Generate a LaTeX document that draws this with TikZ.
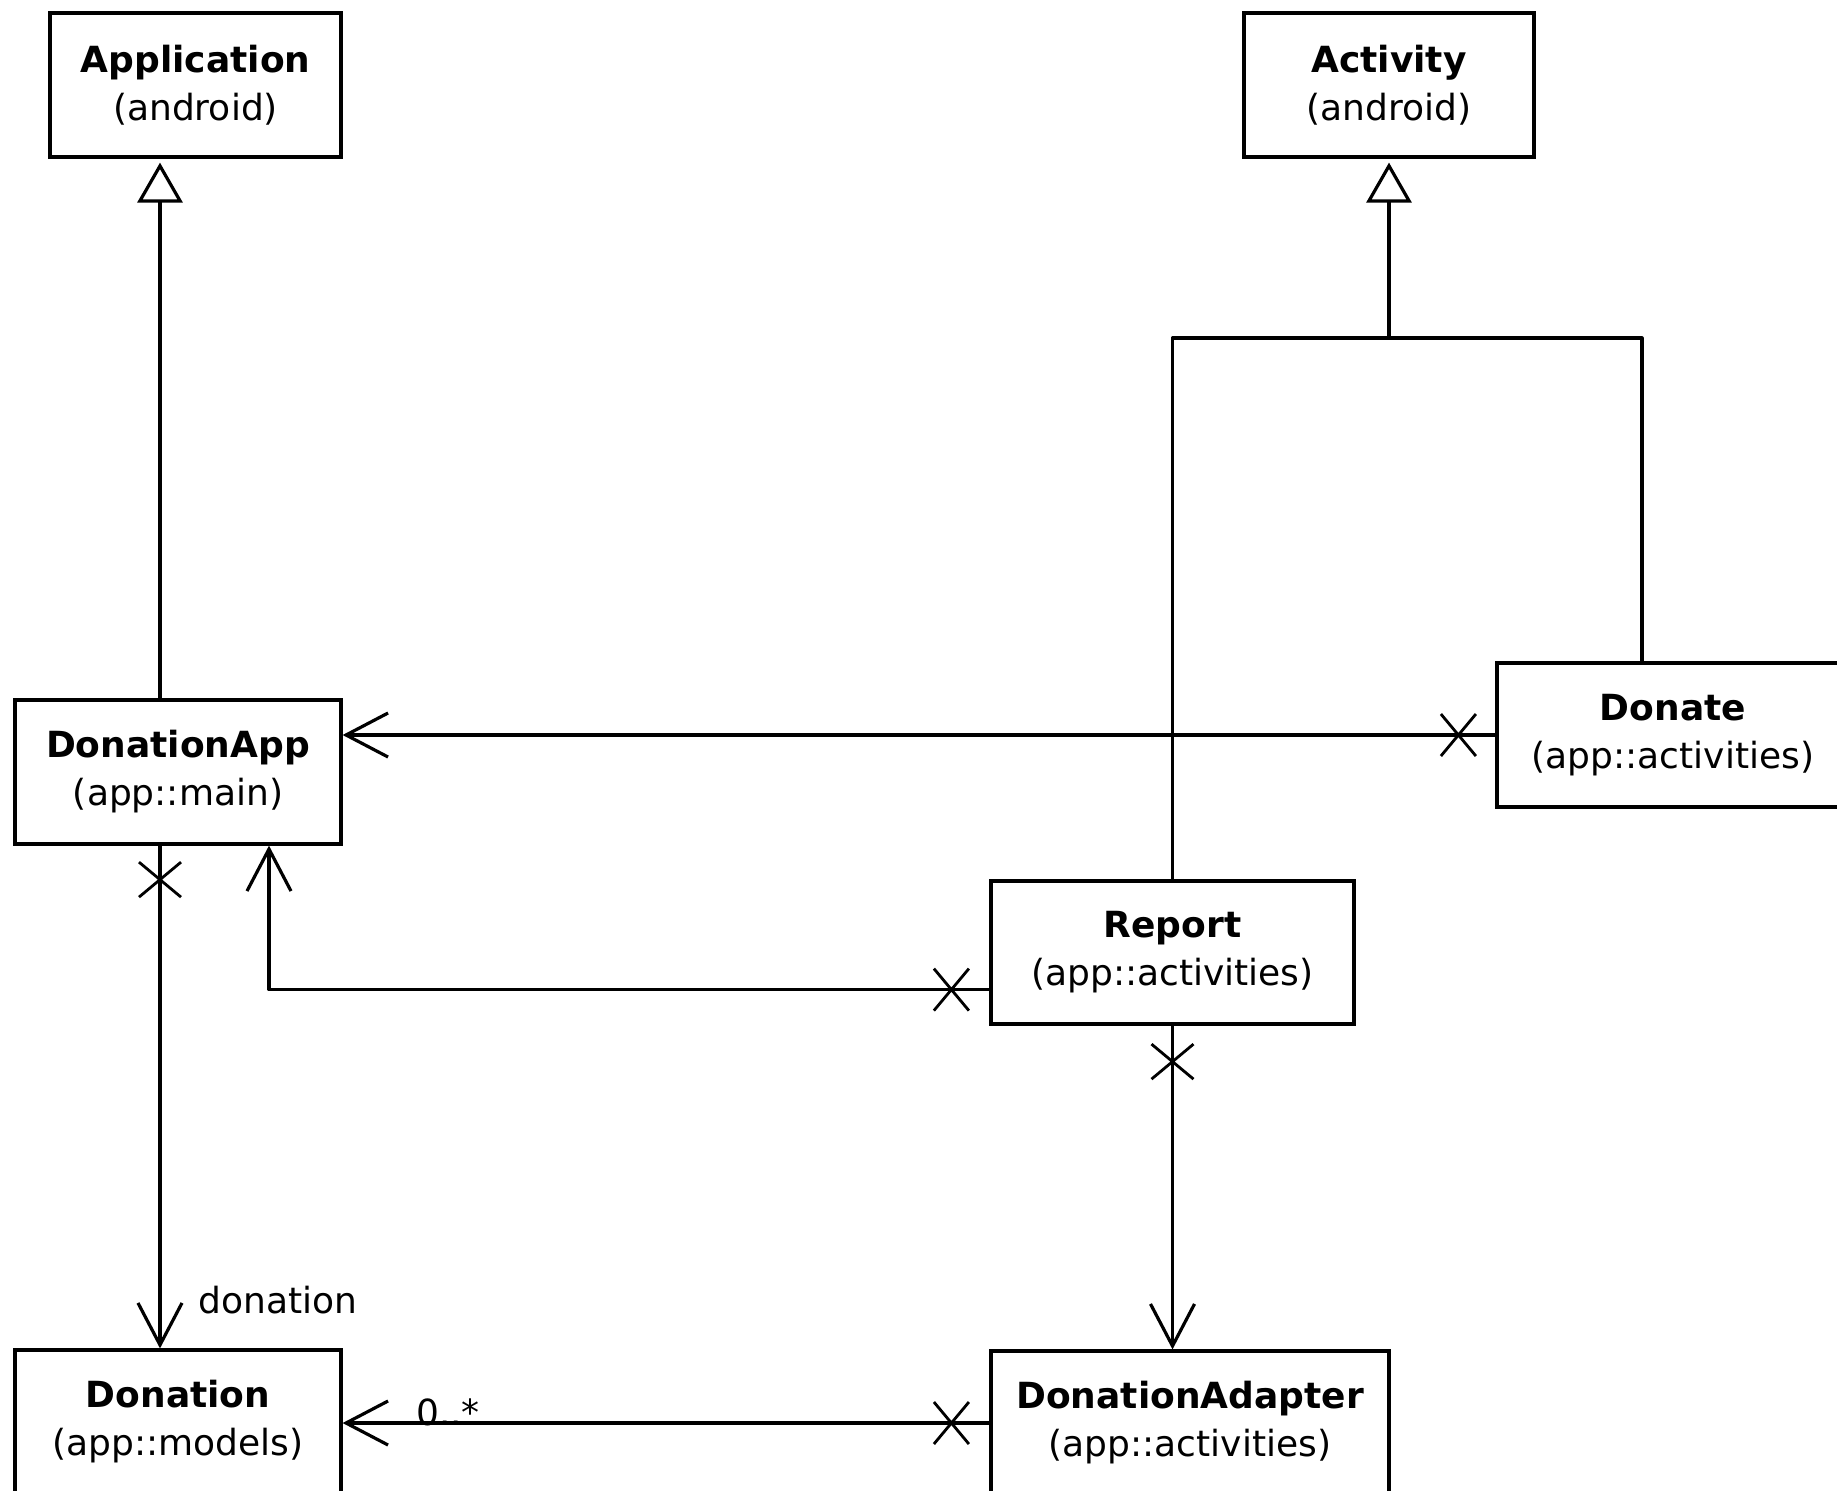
\documentclass[tikz,border=0pt]{standalone}
\usepackage{fontspec}
\setmainfont{DejaVu Sans}
\usetikzlibrary{arrows.meta,calc}
\tikzset{
  cls/.style={draw=black, fill=white, line width=1.6pt, align=center,
    font=\fontsize{18}{24}\selectfont, minimum height=72pt, inner sep=0pt},
  conn/.style={line width=1.6pt, line join=round},
  gen/.style={conn, -{Triangle[open, fill=white, length=20pt, width=22.5pt]}, shorten >=2pt},
  assoc/.style={conn, -{Straight Barb[length=21pt, width=22pt]}},
  lbl/.style={font=\fontsize{18}{22}\selectfont, inner sep=0pt},
  xh/.pic={\draw[line width=1.4pt] (-17.5,-21) -- (17.5,21) (-17.5,21) -- (17.5,-21);},
  xv/.pic={\draw[line width=1.4pt] (-21,-17.5) -- (21,17.5) (-21,17.5) -- (21,-17.5);}
}
\begin{document}
\begin{tikzpicture}[x=0.5pt,y=-0.5pt]
\useasboundingbox (0,0) rectangle (1837,1490);
\fill[white] (0,0) rectangle (1837,1490);
\clip (0,0) rectangle (1837,1490);

% classes
\node[cls, minimum width=145.5pt] (Application) at (195.5,85) {\textbf{Application}\\(android)};
\node[cls, minimum width=145pt] (Activity) at (1389,85) {\textbf{Activity}\\(android)};
\node[cls, minimum width=163pt] (DonationApp) at (178,772) {\textbf{DonationApp}\\(app::main)};
\node[cls, minimum width=176pt] (Donate) at (1673,735) {\textbf{Donate}\\(app::activities)};
\node[cls, minimum width=181.5pt, minimum height=71.5pt] (Report) at (1172.5,952.5) {\textbf{Report}\\(app::activities)};
\node[cls, minimum width=163pt] (Donation) at (178,1422) {\textbf{Donation}\\(app::models)};
\node[cls, minimum width=199pt] (DonationAdapter) at (1190,1423) {\textbf{DonationAdapter}\\(app::activities)};

% helper coordinates
\coordinate (xA) at (160,0);
\coordinate (xB) at (269,0);
\coordinate (xD) at (1642,0);
\coordinate (bar) at (1389,338);
\coordinate (rl) at ($(Report.south west)+(0,-36)$);

% generalizations
\draw[gen] (DonationApp.north -| xA) -- (Application.south -| xA);
\draw[conn] (Report.north) -- (Report.north |- bar) -- (bar -| xD) -- (xD |- Donate.north);
\draw[gen] (bar) -- (Activity.south);

% associations
\draw[assoc] (Donate.west) -- (Donate.west -| DonationApp.east);
\pic at ($(Donate.west)+(-37,0)$) {xh};

\draw[assoc] (rl) -- (rl -| xB) -- (xB |- DonationApp.south);
\pic at ($(rl)+(-38,0)$) {xh};

\draw[assoc] (DonationApp.south -| xA) -- (Donation.north -| xA)
  node[at end, lbl, anchor=base west, xshift=18.5pt, yshift=17.5pt] {donation};
\pic at ($(DonationApp.south -| xA)+(0,34)$) {xv};

\draw[assoc] (Report.south) -- (Report.south |- DonationAdapter.north);
\pic at ($(Report.south)+(0,36)$) {xv};

\draw[assoc] (DonationAdapter.west) -- (DonationAdapter.west -| Donation.east)
  node[at end, lbl, anchor=base west, xshift=36pt, yshift=-1pt] {0..*};
\pic at ($(DonationAdapter.west)+(-38,0)$) {xh};
\end{tikzpicture}
\end{document}
